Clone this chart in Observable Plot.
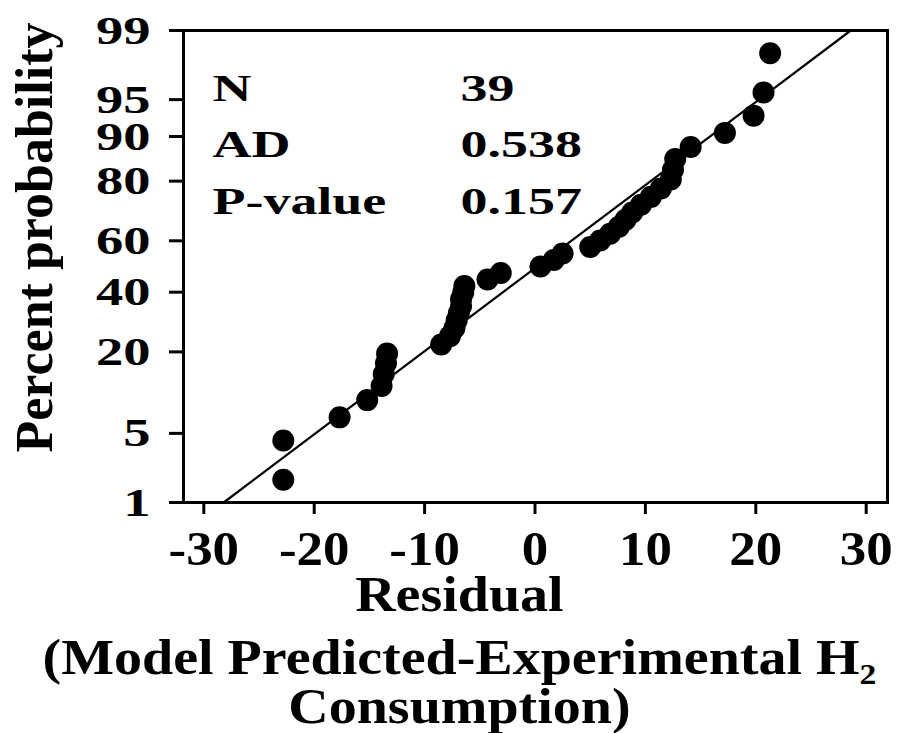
<!DOCTYPE html>
<html>
<head>
<meta charset="utf-8">
<script src="https://cdn.jsdelivr.net/npm/d3@7"></script>
<script src="https://cdn.jsdelivr.net/npm/@observablehq/plot@0.6"></script>
<style>
  html, body { margin: 0; padding: 0; background: #fff; }
  #wrap { position: relative; width: 903px; height: 733px; overflow: hidden; background: #fff; }
  .ttl { position: absolute; left: 8px; width: 903px; text-align: center; white-space: nowrap;
         font-family: "Liberation Serif", "Times New Roman", serif; font-weight: bold; font-size: 50px;
         line-height: 36px; color: #000; transform: scaleX(1.12); transform-origin: 452px 0; }
</style>
</head>
<body>
<div id="wrap">
  <div id="chart"></div>
  <div class="ttl" style="top:576px">Residual</div>
  <div class="ttl" style="top:639px">(Model Predicted-Experimental H<span style="font-size:30px;position:relative;top:10px;line-height:0">2</span></div>
  <div class="ttl" style="top:688px">Consumption)</div>
</div>
<script>
// ---- data ----
const residuals = [-22.8, -22.8, -17.7, -15.2, -13.9, -13.7, -13.5, -13.4, -8.5, -7.7,
                   -7.3, -7.1, -6.9, -6.7, -6.7, -6.5, -6.4, -4.3, -3.1, 0.5,
                   1.7, 2.5, 5.0, 5.9, 6.8, 7.6, 8.2, 8.8, 9.6, 10.5,
                   11.4, 12.3, 12.5, 12.7, 14.1, 17.2, 19.8, 20.7, 21.3];
const percents = [1.78, 4.31, 6.85, 9.39, 11.93, 14.47, 17.01, 19.54, 22.08, 24.62,
                  27.16, 29.70, 32.23, 34.77, 37.31, 39.85, 42.39, 44.92, 47.46, 50.00,
                  52.54, 55.08, 57.61, 60.15, 62.69, 65.23, 67.77, 70.30, 72.84, 75.38,
                  77.92, 80.46, 82.99, 85.53, 88.07, 90.61, 93.15, 95.69, 98.22];
const fitResidual = [-28.2, 28.6];
const fitPercent = [1, 99];
const xTicks = [-30, -20, -10, 0, 10, 20, 30];
const yTickLabels = [1, 5, 20, 40, 60, 80, 90, 95, 99];
const statLabels = ["N", "AD", "P-value"];
const statValues = ["39", "0.538", "0.157"];

// inverse standard normal CDF (probability-scale transform)
function probit(p) {
  const a=[-3.969683028665376e+01,2.209460984245205e+02,-2.759285104469687e+02,1.383577518672690e+02,-3.066479806614716e+01,2.506628277459239e+00];
  const b=[-5.447609879822406e+01,1.615858368580409e+02,-1.556989798598866e+02,6.680131188771972e+01,-1.328068155288572e+01];
  const c=[-7.784894002430293e-03,-3.223964580411365e-01,-2.400758277161838e+00,-2.549671180376305e+00,4.374664141464968e+00,2.938163982698783e+00];
  const d=[7.784695709041462e-03,3.224671290700398e-01,2.445134137142996e+00,3.754408661907416e+00];
  const pl = 0.02425, ph = 1 - pl;
  let q, r;
  if (p < pl) { q = Math.sqrt(-2*Math.log(p)); return (((((c[0]*q+c[1])*q+c[2])*q+c[3])*q+c[4])*q+c[5])/((((d[0]*q+d[1])*q+d[2])*q+d[3])*q+1); }
  if (p <= ph) { q = p - 0.5; r = q*q; return (((((a[0]*r+a[1])*r+a[2])*r+a[3])*r+a[4])*r+a[5])*q/(((((b[0]*r+b[1])*r+b[2])*r+b[3])*r+b[4])*r+1); }
  q = Math.sqrt(-2*Math.log(1-p)); return -(((((c[0]*q+c[1])*q+c[2])*q+c[3])*q+c[4])*q+c[5])/((((d[0]*q+d[1])*q+d[2])*q+d[3])*q+1);
}

const points = residuals.map((r, i) => ({r, p: percents[i]}));
const fit = fitResidual.map((r, i) => ({r, p: fitPercent[i]}));
const yTickZ = yTickLabels.map(v => probit(v / 100));
const zLabel = new Map(yTickZ.map((z, i) => [z, String(yTickLabels[i])]));

const chart = Plot.plot({
  width: 903,
  height: 583,
  marginLeft: 183,
  marginRight: 16,
  marginTop: 30,
  marginBottom: 81,
  style: {fontFamily: "Liberation Serif, Times New Roman, serif", fontWeight: "bold", fontSize: "41px", background: "#fff", color: "#000"},
  x: {domain: [-31.84, 31.93]},
  y: {domain: [probit(0.01), probit(0.99)]},
  marks: [
    Plot.axisX({ticks: xTicks, tickFormat: d => String(d), tickSize: 12, tickPadding: 16, fontSize: 49, strokeWidth: 3, label: null}),
    Plot.axisY({ticks: yTickZ, tickFormat: z => zLabel.get(z), tickSize: 14, tickPadding: 19, fontSize: 41, strokeWidth: 3, label: null}),
    Plot.line(fit, {x: "r", y: d => probit(d.p / 100), stroke: "#000", strokeWidth: 2.2}),
    Plot.dot(points, {x: "r", y: d => probit(d.p / 100), r: 11, fill: "#000", stroke: null}),
    Plot.frame({stroke: "#000", strokeWidth: 3}),
    Plot.text([statLabels.join("\n")], {frameAnchor: "top-left", dx: 29, dy: 30, lineAnchor: "top", lineHeight: 1.49, textAnchor: "start", fontSize: 38}),
    Plot.text([statValues.join("\n")], {frameAnchor: "top-left", dx: 277, dy: 30, lineAnchor: "top", lineHeight: 1.49, textAnchor: "start", fontSize: 38}),
    Plot.text(["Percent probability"], {frameAnchor: "left", dx: -148, dy: -29, rotate: -90, textAnchor: "middle", lineAnchor: "middle", fontSize: 52})
  ]
});
document.getElementById("chart").appendChild(chart);

// horizontal stretch of the reference's lettering
function stretchEl(t, sx) {
  const tr = t.getAttribute("transform") || "";
  t.setAttribute("transform", tr + ` scale(${sx},1)`);
}
chart.querySelectorAll('g[aria-label="y-axis tick label"] text').forEach(t => stretchEl(t, 1.33));
chart.querySelectorAll('g[aria-label="x-axis tick label"] text').forEach(t => stretchEl(t, 1.08));
const statTexts = new Set([statLabels.join(""), statValues.join("")]);
chart.querySelectorAll('text').forEach(t => {
  if (statTexts.has(t.textContent.replace(/\s/g, ""))) stretchEl(t, 1.42);
});
</script>
</body>
</html>
